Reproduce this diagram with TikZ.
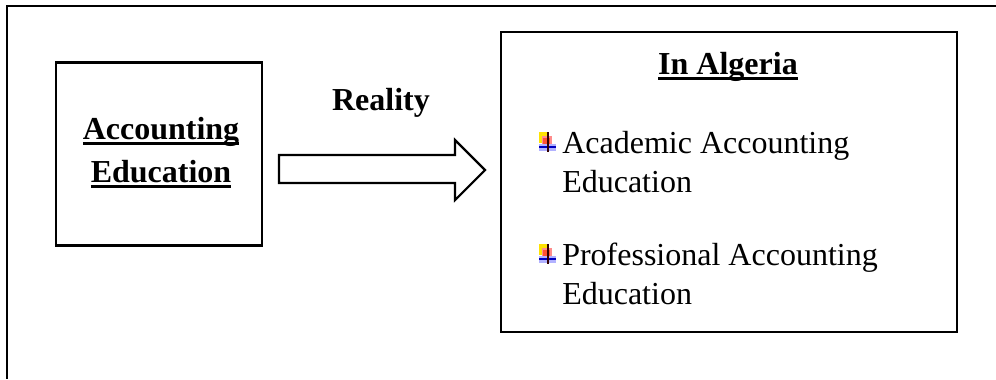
\documentclass[tikz,border=0pt]{standalone}
\usepackage{fontspec}
\setmainfont{Liberation Serif}
\newcommand\thickul[1]{\setbox0\hbox{#1}\rlap{\rule[-4.2pt]{\wd0}{1.9pt}}\box0}
\tikzset{
  frame/.style={draw=black, line width=1.6pt},
  boxed/.style={draw=black, line width=1.6pt},
  boldtxt/.style={font=\fontsize{24}{29}\selectfont\bfseries, anchor=base, inner sep=0pt},
  itemtxt/.style={font=\fontsize{24}{29}\selectfont, anchor=base west, inner sep=0pt, align=left},
}
% coloured cross used as list marker
\newcommand\itemmark[1]{%
  \begin{scope}[shift={(#1)}]
    \fill[yellow!85!orange] (-9,-11) rectangle (0,0);
    \fill[red!45] (-6,-7) rectangle (4,3);
    \fill[red!70!orange!80] (-5,-5) rectangle (2,1);
    \fill[blue!30] (-9,1) rectangle (8,8);
    \fill[blue!75!black] (-9,2.5) rectangle (8,5.2);
    \fill[black!80!red] (-1.3,-11) rectangle (1.3,9);
  \end{scope}}
\begin{document}
\begin{tikzpicture}[x=0.75pt, y=-0.75pt]
\useasboundingbox (0,0) rectangle (996,379);
% outer frame (only top and left edges in view)
\coordinate (fr) at (996,6);
\coordinate (fc) at (7,6);
\coordinate (fb) at (7,379);
\draw[frame] (fr) -- (fc) -- (fb);

% left box
\node[boxed, minimum width=206*0.75pt, minimum height=183*0.75pt, inner sep=0pt] (edu) at (159,154) {};
\node[boldtxt] (edu1) at (161,139) {\thickul{Accounting}};
\node[boldtxt] (edu2) at (161,182) {\thickul{Education}};

% block arrow
\draw[line width=1.6pt, fill=white] (279,155) -- (455,155) -- (455,140) -- (485,170) -- (455,200) -- (455,183) -- (279,183) -- cycle;
\node[boldtxt] (real) at (381,110) {Reality};

% right box
\node[boxed, minimum width=456*0.75pt, minimum height=300*0.75pt, inner sep=0pt] (alg) at (729,182) {};
\node[boldtxt] (algt) at (728,74) {\thickul{In Algeria}};

\itemmark{548,143}
\node[itemtxt] (i1a) at (562,153) {Academic Accounting};
\node[itemtxt] (i1b) at (562,192) {Education};
\itemmark{548,255}
\node[itemtxt] (i2a) at (562,265) {Professional Accounting};
\node[itemtxt] (i2b) at (562,304) {Education};
\end{tikzpicture}
\end{document}
